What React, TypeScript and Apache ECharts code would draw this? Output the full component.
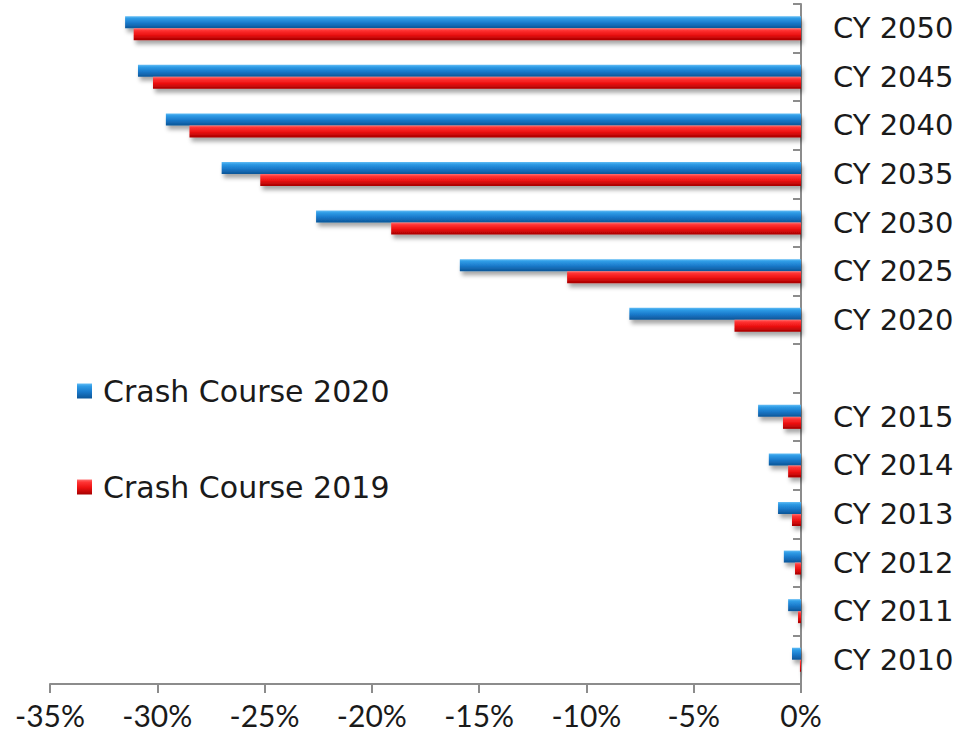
import React, { useEffect, useRef } from "react";
import * as echarts from "echarts";

const categories = [
  "CY 2010", "CY 2011", "CY 2012", "CY 2013", "CY 2014", "CY 2015", "",
  "CY 2020", "CY 2025", "CY 2030", "CY 2035", "CY 2040", "CY 2045", "CY 2050",
];
const crash2020 = [-0.42, -0.6, -0.8, -1.07, -1.5, -2.0, null, -8.0, -15.9, -22.6, -27.0, -29.6, -30.9, -31.5];
const crash2019 = [-0.05, -0.14, -0.28, -0.42, -0.6, -0.84, null, -3.1, -10.9, -19.1, -25.2, -28.5, -30.2, -31.1];
const xTicks = { min: -35, max: 0, interval: 5 };
const seriesNames = ["Crash Course 2020", "Crash Course 2019"];

const WIDE = "DejaVu Sans";
const NARROW = "Lato";

export default function App() {
  const ref = useRef<HTMLDivElement>(null);
  useEffect(() => {
    if (!ref.current) return;
    const chart = echarts.init(ref.current, undefined, { renderer: "svg" });
    const blue = new echarts.graphic.LinearGradient(0, 0, 0, 1, [
      { offset: 0, color: "#62bdf5" },
      { offset: 0.18, color: "#2f9ce6" },
      { offset: 0.55, color: "#1a7acb" },
      { offset: 1, color: "#0c5597" },
    ]);
    const red = new echarts.graphic.LinearGradient(0, 0, 0, 1, [
      { offset: 0, color: "#ff7070" },
      { offset: 0.18, color: "#ff3434" },
      { offset: 0.55, color: "#ec1111" },
      { offset: 1, color: "#a50000" },
    ]);
    const shadow = {
      shadowColor: "rgba(0,0,0,0.35)",
      shadowBlur: 4,
      shadowOffsetX: 2,
      shadowOffsetY: 4,
    };
    const legendText = { fontFamily: WIDE, fontSize: 30, color: "#1a1a1a", padding: [0, 0, 0, 6] };
    chart.setOption({
      animation: false,
      backgroundColor: "#ffffff",
      grid: { left: 50, right: 172, top: 4, bottom: 54 },
      legend: [
        {
          data: [seriesNames[0]],
          left: 72,
          top: 371,
          icon: "rect",
          itemWidth: 15,
          itemHeight: 15,
          textStyle: legendText,
        },
        {
          data: [seriesNames[1]],
          left: 72,
          top: 467,
          icon: "rect",
          itemWidth: 15,
          itemHeight: 15,
          textStyle: legendText,
        },
      ],
      xAxis: {
        type: "value",
        min: xTicks.min,
        max: xTicks.max,
        interval: xTicks.interval,
        axisLine: { show: true, lineStyle: { color: "#8c8c8c", width: 2 } },
        axisTick: { show: true, length: 9, lineStyle: { color: "#8c8c8c", width: 2 } },
        splitLine: { show: false },
        axisLabel: {
          fontFamily: NARROW,
          fontSize: 30,
          color: "#1a1a1a",
          margin: 16,
          formatter: (v: number) => `${v}%`,
        },
      },
      yAxis: {
        type: "category",
        position: "right",
        data: categories,
        axisLine: { show: true, lineStyle: { color: "#8c8c8c", width: 2 } },
        axisTick: { show: true, inside: true, length: 8, lineStyle: { color: "#8c8c8c", width: 2 } },
        axisLabel: { fontFamily: WIDE, fontSize: 29, color: "#1a1a1a", margin: 32 },
      },
      series: [
        {
          name: seriesNames[0],
          type: "bar",
          data: crash2020,
          barWidth: 12,
          barGap: "0%",
          itemStyle: { color: blue, ...shadow },
        },
        {
          name: seriesNames[1],
          type: "bar",
          data: crash2019,
          barWidth: 12,
          barGap: "0%",
          itemStyle: { color: red, ...shadow },
        },
      ],
    });
    return () => chart.dispose();
  }, []);
  return (
    <div
      ref={ref}
      style={{ position: "fixed", left: 0, top: 0, width: 973, height: 738 }}
    />
  );
}
